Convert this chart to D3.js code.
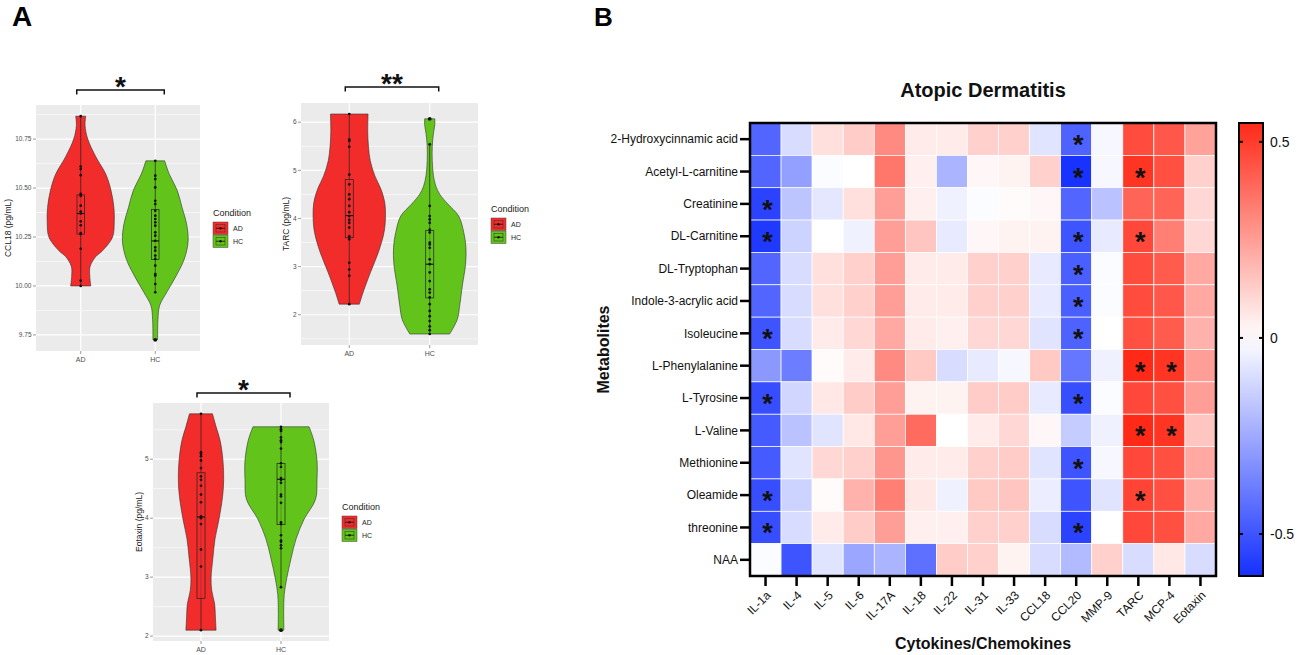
<!DOCTYPE html>
<html>
<head>
<meta charset="utf-8">
<script src="https://cdn.jsdelivr.net/npm/d3@7"></script>
<style>
  body { margin: 0; background: #fff; }
  text { font-family: "Liberation Sans", Arial, Helvetica, sans-serif; }
</style>
</head>
<body>
<svg id="fig" width="1299" height="655"></svg>
<script>
// ---------- panel A data ----------
var groups = ["AD", "HC"]
var groupColors = ["#F22B2B", "#62C31A"]

var ccl18AD = [10.867,10.61,10.597,10.566,10.47,10.46,10.41,10.38,10.37,10.33,10.31,10.27,10.265,10.19,10.027,10.0]
var ccl18HC = [10.639,10.563,10.546,10.503,10.435,10.418,10.384,10.359,10.342,10.325,10.308,10.274,10.257,10.231,10.197,10.18,10.155,10.138,10.104,10.061,10.053,10.01,9.968,9.725]
// [lower whisker, q1, median, q3, upper whisker]
var ccl18BoxAD = [10.0, 10.265, 10.37, 10.465, 10.867]
var ccl18BoxHC = [9.968, 10.135, 10.23, 10.39, 10.639]
// [value, relative density]
var ccl18ViolinAD = [[10.867,0.15],[10.82,0.13],[10.75,0.21],[10.66,0.45],[10.57,0.75],[10.49,0.9],[10.40,0.99],[10.33,1.0],[10.25,0.95],[10.18,0.65],[10.15,0.45],[10.10,0.28],[10.05,0.27],[10.0,0.3]]
var ccl18ViolinHC = [[10.639,0.28],[10.57,0.42],[10.49,0.65],[10.40,0.8],[10.32,0.93],[10.23,0.98],[10.14,0.87],[10.06,0.65],[9.97,0.35],[9.90,0.13],[9.83,0.08],[9.725,0.07]]

var tarcAD = [6.17,5.64,5.61,5.49,4.91,4.71,4.50,4.40,4.26,4.13,4.05,3.97,3.91,3.81,3.63,3.57,3.08,2.94,2.81,2.22]
var tarcHC = [6.07,5.54,4.26,4.05,3.98,3.91,3.77,3.71,3.50,3.46,3.39,3.15,3.05,2.88,2.70,2.53,2.46,2.36,2.22,2.08,1.97,1.87,1.76,1.68,1.60]
var tarcBoxAD = [2.22, 3.60, 4.06, 4.81, 6.17]
var tarcBoxHC = [1.60, 2.35, 3.05, 3.75, 5.54]
var tarcViolinAD = [[6.17,0.52],[5.8,0.51],[5.5,0.53],[5.2,0.58],[4.9,0.7],[4.6,0.88],[4.33,0.98],[4.05,1.0],[3.71,0.96],[3.29,0.8],[2.87,0.58],[2.46,0.38],[2.22,0.28]]
var tarcViolinHC = [[6.07,0.14],[5.95,0.14],[5.75,0.1],[5.5,0.07],[5.2,0.07],[4.9,0.1],[4.67,0.17],[4.5,0.28],[4.3,0.5],[4.05,0.8],[3.71,0.94],[3.40,1.0],[3.05,0.99],[2.6,0.9],[2.2,0.83],[1.9,0.76],[1.60,0.55]]

var eotaxinAD = [5.77,5.12,5.09,5.05,4.98,4.85,4.71,4.65,4.55,4.40,4.27,4.03,4.00,3.90,3.47,3.18,2.10]
var eotaxinHC = [5.55,5.51,5.48,5.37,5.32,5.29,5.18,4.93,4.87,4.68,4.65,4.60,4.40,4.37,4.26,3.93,3.90,3.71,3.62,3.60,3.54,3.49,2.83,2.10]
var eotaxinBoxAD = [2.10, 2.64, 4.02, 4.77, 5.77]
var eotaxinBoxHC = [2.83, 3.89, 4.66, 4.93, 5.55]
var eotaxinViolinAD = [[5.77,0.32],[5.55,0.42],[5.32,0.53],[4.98,0.61],[4.65,0.63],[4.37,0.6],[3.98,0.5],[3.65,0.39],[3.32,0.33],[2.98,0.28],[2.77,0.3],[2.54,0.38],[2.32,0.4],[2.10,0.42]]
var eotaxinViolinHC = [[5.55,0.78],[5.32,0.91],[4.98,1.0],[4.65,1.0],[4.32,0.96],[3.98,0.64],[3.65,0.42],[3.32,0.28],[2.98,0.16],[2.71,0.09],[2.43,0.075],[2.10,0.08]]

var ccl18Ticks = [9.75, 10.0, 10.25, 10.5, 10.75]
var tarcTicks = [2, 3, 4, 5, 6]
var eotaxinTicks = [2, 3, 4, 5]

// ---------- panel B data (correlation heatmap) ----------
var metabolites = ["2-Hydroxycinnamic acid","Acetyl-L-carnitine","Creatinine","DL-Carnitine","DL-Tryptophan","Indole-3-acrylic acid","Isoleucine","L-Phenylalanine","L-Tyrosine","L-Valine","Methionine","Oleamide","threonine","NAA"]
var cytokines = ["IL-1a","IL-4","IL-5","IL-6","IL-17A","IL-18","IL-22","IL-31","IL-33","CCL18","CCL20","MMP-9","TARC","MCP-4","Eotaxin"]
var corrValues = [
  [-0.45,-0.10, 0.08, 0.13, 0.30, 0.05, 0.05, 0.12, 0.12,-0.08,-0.46,-0.02, 0.46, 0.43, 0.24],
  [-0.45,-0.28,-0.01, 0.00, 0.35, 0.04,-0.22, 0.02, 0.03, 0.12,-0.60,-0.02, 0.52, 0.45, 0.12],
  [-0.55,-0.17,-0.07, 0.08, 0.25, 0.04,-0.04,-0.01, 0.01, 0.02,-0.45,-0.18, 0.40, 0.40, 0.10],
  [-0.58,-0.13, 0.00,-0.04, 0.25, 0.15,-0.06, 0.02, 0.03, 0.03,-0.50,-0.06, 0.47, 0.33, 0.10],
  [-0.45,-0.10, 0.08, 0.12, 0.25, 0.05, 0.05, 0.12, 0.12,-0.06,-0.47,-0.01, 0.46, 0.42, 0.22],
  [-0.45,-0.10, 0.08, 0.12, 0.25, 0.05, 0.05, 0.12, 0.12,-0.06,-0.47,-0.01, 0.46, 0.43, 0.22],
  [-0.50,-0.10, 0.05, 0.10, 0.22, 0.05, 0.04, 0.10, 0.10,-0.08,-0.46, 0.00, 0.45, 0.42, 0.20],
  [-0.30,-0.38, 0.01, 0.05, 0.30, 0.14,-0.10,-0.06,-0.02, 0.14,-0.40,-0.04, 0.55, 0.52, 0.25],
  [-0.52,-0.12, 0.06, 0.13, 0.25, 0.03, 0.03, 0.13, 0.13,-0.06,-0.52,-0.01, 0.47, 0.45, 0.25],
  [-0.48,-0.18,-0.08, 0.06, 0.25, 0.38, 0.00, 0.05, 0.10, 0.02,-0.15,-0.04, 0.55, 0.52, 0.15],
  [-0.48,-0.08, 0.10, 0.12, 0.27, 0.05, 0.05, 0.12, 0.13,-0.08,-0.50,-0.02, 0.47, 0.45, 0.22],
  [-0.52,-0.13, 0.01, 0.20, 0.33, 0.06,-0.04, 0.14, 0.15,-0.05,-0.50,-0.08, 0.48, 0.45, 0.20],
  [-0.52,-0.10, 0.05, 0.13, 0.25, 0.04, 0.04, 0.12, 0.12,-0.10,-0.55, 0.00, 0.47, 0.45, 0.22],
  [-0.01,-0.50,-0.08,-0.26,-0.22,-0.42, 0.13, 0.12, 0.03,-0.10,-0.20, 0.12,-0.10, 0.06,-0.10]
]
var sigCells = [
  ["2-Hydroxycinnamic acid","CCL20"],["Acetyl-L-carnitine","CCL20"],["Acetyl-L-carnitine","TARC"],
  ["Creatinine","IL-1a"],["DL-Carnitine","IL-1a"],["DL-Carnitine","CCL20"],["DL-Carnitine","TARC"],
  ["DL-Tryptophan","CCL20"],["Indole-3-acrylic acid","CCL20"],["Isoleucine","IL-1a"],["Isoleucine","CCL20"],
  ["L-Phenylalanine","TARC"],["L-Phenylalanine","MCP-4"],["L-Tyrosine","IL-1a"],["L-Tyrosine","CCL20"],
  ["L-Valine","TARC"],["L-Valine","MCP-4"],["Methionine","CCL20"],["Oleamide","IL-1a"],["Oleamide","TARC"],
  ["threonine","IL-1a"],["threonine","CCL20"]
]
var colorDomain = [-0.607, 0, 0.548]
var colorTicks = [0.5, 0, -0.5]

var svg = d3.select("#fig")

// panel letters
svg.append("text").attr("x", 12).attr("y", 26).attr("font-size", 28).attr("font-weight", "bold").text("A")
svg.append("text").attr("x", 594).attr("y", 26).attr("font-size", 26).attr("font-weight", "bold").text("B")

// ---------- violin panels ----------
var panels = [
  {yTitle: "CCL18 (pg/mL)", fmt: ".2f", ticks: ccl18Ticks, dots: [ccl18AD, ccl18HC], box: [ccl18BoxAD, ccl18BoxHC],
   violin: [ccl18ViolinAD, ccl18ViolinHC], sig: "*", left: 36, top: 105, right: 200, bottom: 351, titleX: 8, bracketY: 90},
  {yTitle: "TARC (pg/mL)", fmt: "d", ticks: tarcTicks, dots: [tarcAD, tarcHC], box: [tarcBoxAD, tarcBoxHC],
   violin: [tarcViolinAD, tarcViolinHC], sig: "**", left: 301, top: 103, right: 478, bottom: 345, titleX: 286, bracketY: 87},
  {yTitle: "Eotaxin (pg/mL)", fmt: "d", ticks: eotaxinTicks, dots: [eotaxinAD, eotaxinHC], box: [eotaxinBoxAD, eotaxinBoxHC],
   violin: [eotaxinViolinAD, eotaxinViolinHC], sig: "*", left: 153, top: 403, right: 329, bottom: 641, titleX: 139, bracketY: 393}
]

function drawViolinPanel(p) {
  var g = svg.append("g")
  var allVals = p.dots[0].concat(p.dots[1])
  var ext = d3.extent(allVals)
  var pad = (ext[1] - ext[0]) * 0.05
  var y = d3.scaleLinear().domain([ext[0] - pad, ext[1] + pad]).range([p.bottom, p.top])
  var x = d3.scalePoint().domain(groups).range([p.left, p.right]).padding(0.6)
  var step = x.step()

  // panel background and grid
  g.append("rect").attr("x", p.left).attr("y", p.top).attr("width", p.right - p.left)
    .attr("height", p.bottom - p.top).attr("fill", "#EBEBEB")
  var tickGap = p.ticks[1] - p.ticks[0]
  var minor = d3.range(p.ticks[0] - tickGap / 2, p.ticks[p.ticks.length - 1] + tickGap, tickGap)
    .filter(function(v) { return v > y.domain()[0] && v < y.domain()[1] })
  g.selectAll(".minor").data(minor).enter().append("line")
    .attr("x1", p.left).attr("x2", p.right).attr("y1", y).attr("y2", y)
    .attr("stroke", "#fff").attr("stroke-width", 0.6)
  g.selectAll(".major").data(p.ticks).enter().append("line")
    .attr("x1", p.left).attr("x2", p.right).attr("y1", y).attr("y2", y)
    .attr("stroke", "#fff").attr("stroke-width", 1.2)
  g.selectAll(".vgrid").data(groups).enter().append("line")
    .attr("x1", x).attr("x2", x).attr("y1", p.top).attr("y2", p.bottom)
    .attr("stroke", "#fff").attr("stroke-width", 1.2)

  // y axis ticks + labels
  var fmt = d3.format(p.fmt)
  p.ticks.forEach(function(t) {
    g.append("line").attr("x1", p.left - 3).attr("x2", p.left).attr("y1", y(t)).attr("y2", y(t))
      .attr("stroke", "#555").attr("stroke-width", 0.6)
    g.append("text").attr("x", p.left - 4.5).attr("y", y(t) + 2.2).attr("text-anchor", "end")
      .attr("font-size", 6.5).attr("fill", "#4D4D4D").text(fmt(t))
  })
  // x axis ticks + labels
  groups.forEach(function(gr) {
    g.append("line").attr("x1", x(gr)).attr("x2", x(gr)).attr("y1", p.bottom).attr("y2", p.bottom + 3)
      .attr("stroke", "#555").attr("stroke-width", 0.6)
    g.append("text").attr("x", x(gr)).attr("y", p.bottom + 10.5).attr("text-anchor", "middle")
      .attr("font-size", 7).attr("fill", "#4D4D4D").text(gr)
  })
  // y title
  var cy = (p.top + p.bottom) / 2
  g.append("text").attr("transform", "translate(" + p.titleX + "," + cy + ") rotate(-90)")
    .attr("text-anchor", "middle").attr("dy", "0.35em").attr("font-size", 8.5).attr("fill", "#222").text(p.yTitle)

  // violins
  groups.forEach(function(gr, i) {
    var cx = x(gr)
    var half = 0.45 * step
    var area = d3.area()
      .y(function(d) { return y(d[0]) })
      .x0(function(d) { return cx - d[1] * half })
      .x1(function(d) { return cx + d[1] * half })
      .curve(d3.curveCatmullRom.alpha(0.5))
    g.append("path").attr("d", area(p.violin[i])).attr("fill", groupColors[i])
      .attr("stroke", "#333").attr("stroke-width", 0.6)

    // box plot
    var b = p.box[i]
    var bw = 0.1 * step
    g.append("line").attr("x1", cx).attr("x2", cx).attr("y1", y(b[0])).attr("y2", y(b[4]))
      .attr("stroke", "#222").attr("stroke-width", 0.7)
    g.append("rect").attr("x", cx - bw / 2).attr("y", y(b[3])).attr("width", bw)
      .attr("height", y(b[1]) - y(b[3])).attr("fill", groupColors[i]).attr("fill-opacity", 0.6)
      .attr("stroke", "#222").attr("stroke-width", 0.7)
    g.append("line").attr("x1", cx - bw / 2).attr("x2", cx + bw / 2).attr("y1", y(b[2])).attr("y2", y(b[2]))
      .attr("stroke", "#111").attr("stroke-width", 1.1)

    // dots
    g.selectAll(".dot" + i).data(p.dots[i]).enter().append("circle")
      .attr("cx", cx).attr("cy", y)
      .attr("r", function(v) { return (v < b[0] || v > b[4]) ? 1.9 : 1.35 })
      .attr("fill", "#111")
  })

  // significance bracket
  var bx0 = x(groups[0]) - 4, bx1 = x(groups[1]) + 9
  g.append("path").attr("d", "M" + bx0 + "," + (p.bracketY + 4.5) + " L" + bx0 + "," + p.bracketY +
      " L" + bx1 + "," + p.bracketY + " L" + bx1 + "," + (p.bracketY + 4.5))
    .attr("fill", "none").attr("stroke", "#111").attr("stroke-width", 1.5)
  g.append("text").attr("x", (bx0 + bx1) / 2).attr("y", p.bracketY + 6).attr("text-anchor", "middle")
    .attr("font-size", 28).attr("font-weight", "bold").attr("fill", "#111").text(p.sig)

  // legend
  var lx = p.right + 13
  g.append("text").attr("x", lx).attr("y", cy - 12).attr("font-size", 9).attr("fill", "#222").text("Condition")
  groups.forEach(function(gr, i) {
    var ky = cy - 6 + i * 13
    g.append("rect").attr("x", lx).attr("y", ky).attr("width", 15).attr("height", 12.5)
      .attr("fill", groupColors[i]).attr("stroke", "#444").attr("stroke-width", 0.5)
    g.append("rect").attr("x", lx + 3).attr("y", ky + 2.5).attr("width", 9).attr("height", 7.5)
      .attr("fill", "none").attr("stroke", "#333").attr("stroke-width", 0.5)
    g.append("line").attr("x1", lx + 3).attr("x2", lx + 12).attr("y1", ky + 6.25).attr("y2", ky + 6.25)
      .attr("stroke", "#111").attr("stroke-width", 0.8)
    g.append("circle").attr("cx", lx + 7.5).attr("cy", ky + 6.25).attr("r", 1.2).attr("fill", "#111")
    g.append("text").attr("x", lx + 20).attr("y", ky + 8.5).attr("font-size", 7).attr("fill", "#222").text(gr)
  })
}

panels.forEach(drawViolinPanel)

// ---------- heatmap ----------
var hm = {left: 750, top: 123, right: 1216, bottom: 576}
var xb = d3.scaleBand().domain(cytokines).range([hm.left, hm.right])
var yb = d3.scaleBand().domain(metabolites).range([hm.top, hm.bottom])
var color = d3.scaleLinear().domain(colorDomain).range(["#1530ff", "#ffffff", "#ff2a18"])

var hg = svg.append("g")
var cells = []
metabolites.forEach(function(m, r) {
  cytokines.forEach(function(c, k) { cells.push({m: m, c: c, v: corrValues[r][k]}) })
})
hg.selectAll(".cell").data(cells).enter().append("rect")
  .attr("x", function(d) { return xb(d.c) }).attr("y", function(d) { return yb(d.m) })
  .attr("width", xb.bandwidth()).attr("height", yb.bandwidth())
  .attr("fill", function(d) { return color(d.v) })
  .attr("stroke", "#fff").attr("stroke-width", 0.7)

hg.selectAll(".star").data(sigCells).enter().append("text")
  .attr("x", function(d) { return xb(d[1]) + xb.bandwidth() / 2 + 2 })
  .attr("y", function(d) { return yb(d[0]) + yb.bandwidth() / 2 + 15 })
  .attr("text-anchor", "middle").attr("font-size", 27).attr("font-weight", "bold").attr("fill", "#111").text("*")

hg.append("rect").attr("x", hm.left).attr("y", hm.top).attr("width", hm.right - hm.left)
  .attr("height", hm.bottom - hm.top).attr("fill", "none").attr("stroke", "#000").attr("stroke-width", 2.5)

// row ticks + labels
metabolites.forEach(function(m) {
  var yc = yb(m) + yb.bandwidth() / 2
  hg.append("line").attr("x1", hm.left - 10).attr("x2", hm.left).attr("y1", yc).attr("y2", yc)
    .attr("stroke", "#000").attr("stroke-width", 2.5)
  hg.append("text").attr("x", hm.left - 12).attr("y", yc).attr("dy", "0.35em").attr("text-anchor", "end")
    .attr("font-size", 12).attr("fill", "#111").text(m)
})
// column ticks + labels
cytokines.forEach(function(c) {
  var xc = xb(c) + xb.bandwidth() / 2
  hg.append("line").attr("x1", xc).attr("x2", xc).attr("y1", hm.bottom).attr("y2", hm.bottom + 10)
    .attr("stroke", "#000").attr("stroke-width", 2.5)
  hg.append("text").attr("transform", "translate(" + (xc + 3) + "," + (hm.bottom + 17) + ") rotate(-45)")
    .attr("text-anchor", "end").attr("dy", "0.35em").attr("font-size", 12).attr("fill", "#111").text(c)
})

hg.append("text").attr("x", (hm.left + hm.right) / 2).attr("y", 97).attr("text-anchor", "middle")
  .attr("font-size", 20).attr("font-weight", "bold").attr("fill", "#111").text("Atopic Dermatitis")
hg.append("text").attr("transform", "translate(603," + ((hm.top + hm.bottom) / 2) + ") rotate(-90)")
  .attr("text-anchor", "middle").attr("dy", "0.35em").attr("font-size", 16).attr("font-weight", "bold")
  .attr("fill", "#111").text("Metabolites")
hg.append("text").attr("x", (hm.left + hm.right) / 2).attr("y", 649).attr("text-anchor", "middle")
  .attr("font-size", 16).attr("font-weight", "bold").attr("fill", "#111").text("Cytokines/Chemokines")

// ---------- colour bar ----------
var cb = {left: 1239, right: 1263, top: hm.top, bottom: hm.bottom}
var cy2 = d3.scaleLinear().domain([colorDomain[0], colorDomain[2]]).range([cb.bottom, cb.top])
var defs = svg.append("defs")
var grad = defs.append("linearGradient").attr("id", "cbar").attr("x1", 0).attr("y1", 1).attr("x2", 0).attr("y2", 0)
d3.range(0, 1.0001, 0.05).forEach(function(t) {
  var v = colorDomain[0] + t * (colorDomain[2] - colorDomain[0])
  grad.append("stop").attr("offset", t).attr("stop-color", color(v))
})
svg.append("rect").attr("x", cb.left).attr("y", cb.top).attr("width", cb.right - cb.left)
  .attr("height", cb.bottom - cb.top).attr("fill", "url(#cbar)").attr("stroke", "#000").attr("stroke-width", 2)
colorTicks.forEach(function(t) {
  svg.append("line").attr("x1", cb.left).attr("x2", cb.left + 4).attr("y1", cy2(t)).attr("y2", cy2(t))
    .attr("stroke", "#000").attr("stroke-width", 2)
  svg.append("line").attr("x1", cb.right - 4).attr("x2", cb.right).attr("y1", cy2(t)).attr("y2", cy2(t))
    .attr("stroke", "#000").attr("stroke-width", 2)
  svg.append("text").attr("x", cb.right + 7).attr("y", cy2(t)).attr("dy", "0.35em")
    .attr("font-size", 14).attr("fill", "#111").text(t)
})
</script>
</body>
</html>
